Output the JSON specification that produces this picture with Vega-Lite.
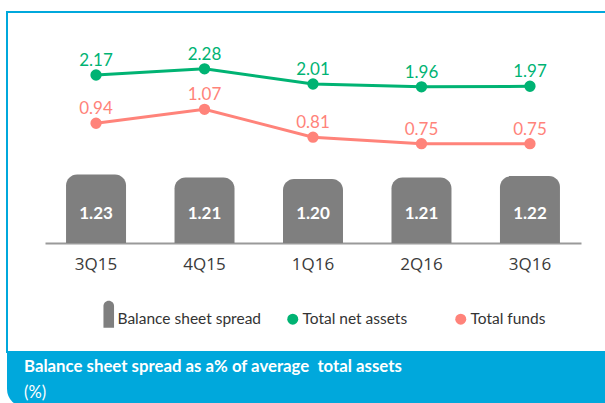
{
  "$schema": "https://vega.github.io/schema/vega-lite/v6.json",
  "padding": {"left": 6, "top": 11, "right": 0, "bottom": 0},
  "background": "white",
  "spacing": 0,
  "config": {"font": "Lato"},
  "vconcat": [
    {
      "width": 602,
      "height": 340,
      "view": {"stroke": "#00A8DC", "strokeWidth": 2, "fill": "white"},
      "data": {"values": [
        {"quarter": "3Q15", "spread": 1.23, "net": 2.17, "funds": 0.94},
        {"quarter": "4Q15", "spread": 1.21, "net": 2.28, "funds": 1.07},
        {"quarter": "1Q16", "spread": 1.20, "net": 2.01, "funds": 0.81},
        {"quarter": "2Q16", "spread": 1.21, "net": 1.96, "funds": 0.75},
        {"quarter": "3Q16", "spread": 1.22, "net": 1.97, "funds": 0.75}
      ]},
      "encoding": {
        "x": {
          "field": "quarter", "type": "nominal", "sort": null, "title": null,
          "scale": {"range": [38, 574], "paddingInner": 0.447, "paddingOuter": 0.194},
          "axis": {"orient": "bottom", "offset": -109, "domainColor": "#9A9A9A", "domainWidth": 2, "ticks": false, "labelFont": "Open Sans", "labelFontSize": 17, "labelColor": "#3A3A3A", "labelPadding": 13, "labelAngle": 0, "grid": false}
        }
      },
      "layer": [
        {
          "layer": [
            {
              "mark": {"type": "bar", "cornerRadiusTopLeft": 11, "cornerRadiusTopRight": 11},
              "encoding": {
                "y": {"field": "spread", "type": "quantitative", "scale": {"domain": [0.0473, 2.314], "zero": false, "nice": false}, "axis": null},
                "y2": {"datum": 0.774},
                "fill": {
                  "datum": "Balance sheet spread",
                  "scale": {"range": ["#7F7F7F"]},
                  "legend": {"orient": "none", "legendX": 94, "legendY": 299, "title": null, "symbolType": "M-1,1.7L-1,-2.4A1,1,0,0,1,1,-2.4L1,1.7Z", "symbolSize": 112, "labelFontSize": 15.5, "labelColor": "#333333", "labelOffset": 1, "symbolStrokeWidth": 0, "padding": 0}
                }
              }
            },
            {
              "mark": {"type": "text", "color": "white", "fontWeight": "bold", "fontSize": 17, "baseline": "middle"},
              "encoding": {
                "y": {"datum": 0.97, "type": "quantitative"},
                "text": {"field": "spread", "type": "quantitative", "format": ".2f"}
              }
            }
          ]
        },
        {
          "layer": [
            {
              "mark": {"type": "point", "filled": true, "size": 128, "opacity": 1},
              "encoding": {
                "y": {"field": "net", "type": "quantitative", "scale": {"domain": [-2.758, 3.2915], "zero": false, "nice": false}, "axis": null},
                "color": {
                  "datum": "Total net assets",
                  "scale": {"domain": ["Total net assets", "Total funds"], "range": ["#00B373", "#FF837A"]},
                  "legend": {"orient": "none", "legendX": 278, "legendY": 299, "direction": "horizontal", "title": null, "symbolType": "circle", "symbolSize": 121, "labelFontSize": 15.5, "labelColor": "#333333", "labelOffset": 2, "columnPadding": 45, "padding": 0, "symbolStrokeWidth": 0}
                }
              }
            },
            {
              "mark": {"type": "line", "color": "#00B373", "strokeWidth": 3},
              "encoding": {"y": {"field": "net", "type": "quantitative"}}
            },
            {
              "mark": {"type": "text", "color": "#00B373", "fontSize": 17, "baseline": "alphabetic", "dy": -9},
              "encoding": {
                "y": {"field": "net", "type": "quantitative"},
                "text": {"field": "net", "type": "quantitative", "format": ".2f"}
              }
            }
          ]
        },
        {
          "layer": [
            {
              "mark": {"type": "point", "filled": true, "size": 128, "opacity": 1},
              "encoding": {
                "y": {"field": "funds", "type": "quantitative", "scale": {"domain": [-1.1919, 1.9768], "zero": false, "nice": false}, "axis": null},
                "color": {"datum": "Total funds"}
              }
            },
            {
              "mark": {"type": "line", "color": "#FF837A", "strokeWidth": 3},
              "encoding": {"y": {"field": "funds", "type": "quantitative"}}
            },
            {
              "mark": {"type": "text", "color": "#FF837A", "fontSize": 17, "baseline": "alphabetic", "dy": -9},
              "encoding": {
                "y": {"field": "funds", "type": "quantitative"},
                "text": {"field": "funds", "type": "quantitative", "format": ".2f"}
              }
            }
          ]
        }
      ],
      "resolve": {"scale": {"y": "independent"}}
    },
    {
      "width": 602,
      "height": 54,
      "view": {"stroke": null, "fill": null},
      "data": {"values": [{"caption": "Balance sheet spread as a% of average  total assets"}]},
      "mark": {"type": "rect", "color": "#00A8DC", "cornerRadiusBottomLeft": 18},
      "encoding": {},
      "title": {
        "text": "Balance sheet spread as a% of average\u00a0 total assets",
        "subtitle": "(%)",
        "orient": "top", "anchor": "start", "frame": "group", "offset": -48, "dx": 17,
        "color": "white", "font": "Lato", "fontSize": 16.8, "fontWeight": "bold",
        "subtitleColor": "white", "subtitleFont": "Lato", "subtitleFontSize": 16.5, "subtitleFontWeight": "normal", "subtitlePadding": 9
      }
    }
  ]
}
